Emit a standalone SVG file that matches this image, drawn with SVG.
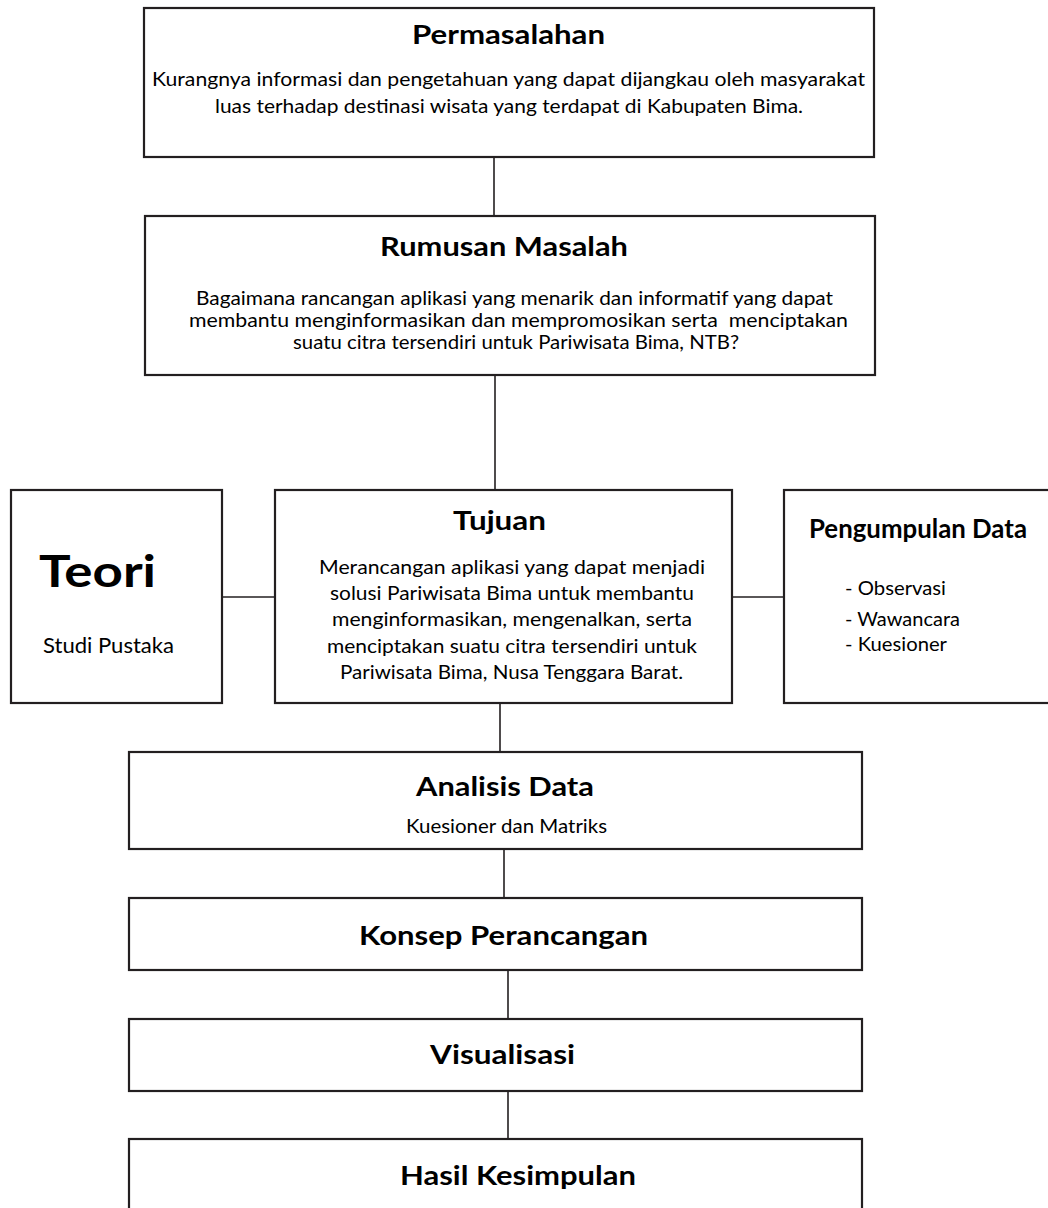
<svg xmlns="http://www.w3.org/2000/svg" width="1048" height="1208" viewBox="0 0 1048 1208">
<style>
.box{fill:#fff;stroke:#231f20;stroke-width:2.2}
.con{stroke:#231f20;stroke-width:1.6;fill:none}
text{font-family:Lato,"Open Sans","Liberation Sans",sans-serif;fill:#000}
.t{font-weight:700;font-size:26px}
.b{font-size:20px}
.s{font-size:18.5px}
</style>
<rect width="1048" height="1208" fill="#fff"/>
<g id="connectors">
<line class="con" x1="494" y1="157" x2="494" y2="216"/>
<line class="con" x1="495" y1="375" x2="495" y2="490"/>
<line class="con" x1="222" y1="597" x2="275" y2="597"/>
<line class="con" x1="732" y1="597" x2="784" y2="597"/>
<line class="con" x1="500" y1="703" x2="500" y2="752"/>
<line class="con" x1="504" y1="849" x2="504" y2="898"/>
<line class="con" x1="508" y1="970" x2="508" y2="1019"/>
<line class="con" x1="508" y1="1091" x2="508" y2="1139"/>
</g>
<g id="permasalahan">
<rect class="box" x="144" y="8" width="730" height="149"/>
<text class="t" x="412" y="44" textLength="193" lengthAdjust="spacingAndGlyphs">Permasalahan</text>
<text class="b" x="152" y="86" textLength="713" lengthAdjust="spacingAndGlyphs">Kurangnya informasi dan pengetahuan yang dapat dijangkau oleh masyarakat</text>
<text class="b" x="215" y="113" textLength="588" lengthAdjust="spacingAndGlyphs">luas terhadap destinasi wisata yang terdapat di Kabupaten Bima.</text>
</g>
<g id="rumusan">
<rect class="box" x="145" y="216" width="730" height="159"/>
<text class="t" x="380" y="256" textLength="248" lengthAdjust="spacingAndGlyphs">Rumusan Masalah</text>
<text class="b" x="196" y="305" textLength="637" lengthAdjust="spacingAndGlyphs">Bagaimana rancangan aplikasi yang menarik dan informatif yang dapat</text>
<text class="b" x="189" y="327" textLength="659" lengthAdjust="spacingAndGlyphs" xml:space="preserve">membantu menginformasikan dan mempromosikan serta  menciptakan</text>
<text class="b" x="293" y="349" textLength="446" lengthAdjust="spacingAndGlyphs">suatu citra tersendiri untuk Pariwisata Bima, NTB?</text>
</g>
<g id="teori">
<rect class="box" x="11" y="490" width="211" height="213"/>
<text x="39" y="587" font-weight="700" font-size="43" textLength="117" lengthAdjust="spacingAndGlyphs">Teori</text>
<text x="43" y="653" font-size="21" textLength="131" lengthAdjust="spacingAndGlyphs">Studi Pustaka</text>
</g>
<g id="tujuan">
<rect class="box" x="275" y="490" width="457" height="213"/>
<text class="t" x="453" y="530" textLength="93" lengthAdjust="spacingAndGlyphs">Tujuan</text>
<text class="b" x="319" y="574" font-size="21.5" textLength="386" lengthAdjust="spacingAndGlyphs">Merancangan aplikasi yang dapat menjadi</text>
<text class="b" x="330" y="600" font-size="21.5" textLength="364" lengthAdjust="spacingAndGlyphs">solusi Pariwisata Bima untuk membantu</text>
<text class="b" x="332" y="626" font-size="21.5" textLength="360" lengthAdjust="spacingAndGlyphs">menginformasikan, mengenalkan, serta</text>
<text class="b" x="327" y="653" font-size="21.5" textLength="370" lengthAdjust="spacingAndGlyphs">menciptakan suatu citra tersendiri untuk</text>
<text class="b" x="340" y="679" font-size="21.5" textLength="343" lengthAdjust="spacingAndGlyphs">Pariwisata Bima, Nusa Tenggara Barat.</text>
</g>
<g id="pengumpulan">
<rect class="box" x="784" y="490" width="270" height="213"/>
<text class="t" x="809" y="538" font-size="24" textLength="218" lengthAdjust="spacingAndGlyphs">Pengumpulan Data</text>
<text class="s" x="845" y="595" textLength="101" lengthAdjust="spacingAndGlyphs">- Observasi</text>
<text class="s" x="845" y="626" textLength="115" lengthAdjust="spacingAndGlyphs">- Wawancara</text>
<text class="s" x="845" y="651" textLength="102" lengthAdjust="spacingAndGlyphs">- Kuesioner</text>
</g>
<g id="analisis">
<rect class="box" x="129" y="752" width="733" height="97"/>
<text class="t" x="416" y="796" textLength="178" lengthAdjust="spacingAndGlyphs">Analisis Data</text>
<text class="b" x="406" y="833" font-size="19" textLength="201" lengthAdjust="spacingAndGlyphs">Kuesioner dan Matriks</text>
</g>
<g id="konsep">
<rect class="box" x="129" y="898" width="733" height="72"/>
<text class="t" x="359" y="945" textLength="289" lengthAdjust="spacingAndGlyphs">Konsep Perancangan</text>
</g>
<g id="visualisasi">
<rect class="box" x="129" y="1019" width="733" height="72"/>
<text class="t" x="430" y="1064" textLength="145" lengthAdjust="spacingAndGlyphs">Visualisasi</text>
</g>
<g id="hasil">
<rect class="box" x="129" y="1139" width="733" height="80"/>
<text class="t" x="400" y="1185" textLength="236" lengthAdjust="spacingAndGlyphs">Hasil Kesimpulan</text>
</g>
</svg>
